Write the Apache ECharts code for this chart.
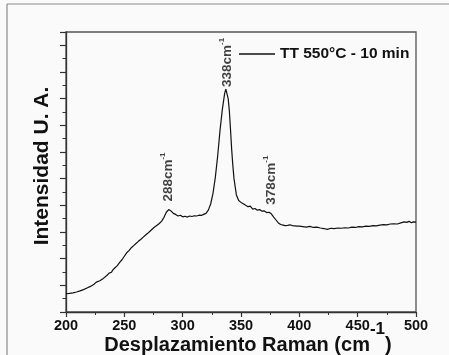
<!DOCTYPE html>
<html>
<head>
<meta charset="utf-8">
<script src="https://cdn.jsdelivr.net/npm/echarts@6/dist/echarts.min.js"></script>
<style>
html,body{margin:0;padding:0;background:#fafafa;}
#c{width:449px;height:355px;}
</style>
</head>
<body>
<div id="c"></div>
<script>
// Raman shift (cm-1)
var shiftX = [200,203,206,209,212,215,218,221,224,226,227,229,232,235,237,238,239,240,242,244,246,248,250,252,254,256,258,260,262,264,266,268,270,272,274,276,278,280,282,284,286,288,290,292,294,296,298,300,302,304,306,308,310,312,314,316,318,320,322,324,326,328,330,332,334,336,337,338,339,340,341,342,343,344,345,346,348,350,352,354,356,358,360,362,364,366,368,370,372,374,376,378,380,382,384,386,388,390,392,394,396,398,400,403,406,409,412,415,418,421,424,427,430,433,436,439,442,445,448,451,454,457,460,463,466,469,472,475,478,481,484,487,490,492,494,496,498,500];
// Intensity (arbitrary units)
var intensity = [0.69,0.70,0.72,0.75,0.79,0.84,0.90,0.96,1.04,1.12,1.08,1.17,1.26,1.37,1.46,1.52,1.49,1.57,1.66,1.74,1.86,1.96,2.09,2.22,2.30,2.41,2.49,2.57,2.65,2.72,2.80,2.88,2.95,3.03,3.11,3.19,3.25,3.32,3.41,3.55,3.74,3.84,3.79,3.70,3.66,3.60,3.63,3.57,3.59,3.56,3.60,3.58,3.61,3.60,3.63,3.62,3.66,3.70,3.82,4.05,4.45,5.05,5.85,6.80,7.60,8.20,8.36,8.30,8.00,7.55,6.85,6.10,5.50,5.00,4.70,4.40,4.18,4.11,4.06,4.00,3.95,3.97,3.86,3.88,3.82,3.84,3.78,3.79,3.73,3.74,3.68,3.56,3.45,3.34,3.28,3.26,3.24,3.25,3.27,3.24,3.23,3.22,3.22,3.20,3.18,3.21,3.17,3.18,3.15,3.13,3.10,3.14,3.13,3.15,3.14,3.16,3.15,3.18,3.17,3.20,3.19,3.22,3.21,3.24,3.23,3.26,3.28,3.27,3.30,3.31,3.30,3.34,3.38,3.36,3.40,3.35,3.38,3.37];
var xTicks = [200,250,300,350,400,450,500];
var seriesName = 'TT 550°C - 10 min';
// Peak annotations
var peakLabelX = [286.6, 337.3, 375.0];
var peakLabelY = [4.14, 8.44, 4.02];
var peakLabelText = ['288cm', '338cm', '378cm'];

var FONT = "'Liberation Sans', Arial, Helvetica, sans-serif";
var lineData = shiftX.map(function(x,i){return [x, intensity[i]];});
var annData = peakLabelX.map(function(x,i){return {value:[x, peakLabelY[i]], name: peakLabelText[i]};});

var chart = echarts.init(document.getElementById('c'), null, {renderer:'canvas'});
chart.setOption({
  backgroundColor: '#fafafa',
  animation: false,
  grid: {left:66, top:32, right:33, bottom:43, containLabel:false, outerBoundsMode:'none',
         show:true, borderColor:'#555', borderWidth:1.3, backgroundColor:'transparent'},
  graphic: [
    {type:'line', shape:{x1:7, y1:4, x2:449, y2:4}, style:{stroke:'#8a8a8a', lineWidth:1.2}},
    {type:'line', shape:{x1:7, y1:4, x2:7, y2:355}, style:{stroke:'#8a8a8a', lineWidth:1.2}}
  ],
  legend: {
    show: true, data:[seriesName], left:239, top:46, padding:0,
    itemWidth:36, itemHeight:14, itemGap:5,
    icon: 'path://M0,6 L36,6 L36,7.3 L0,7.3 Z',
    textStyle:{fontFamily:FONT, fontSize:15.5, fontWeight:'bold', color:'#111'}
  },
  xAxis: {
    type:'value', min:200, max:500, interval:50,
    axisLine:{show:true, lineStyle:{color:'#333', width:1.3}},
    axisTick:{show:true, length:5, lineStyle:{color:'#333', width:1.2}},
    minorTick:{show:true, splitNumber:2, length:3, lineStyle:{color:'#333', width:1}},
    splitLine:{show:false},
    axisLabel:{fontFamily:FONT, fontSize:14.5, fontWeight:'bold', color:'#111', margin:6,
      formatter:function(v){return xTicks.indexOf(v)>=0 ? String(v) : '';}},
    name: '{a|Desplazamiento Raman (cm}{s|-1}{a|)}',
    nameLocation:'middle', nameGap:9, nameMoveOverlap:false,
    nameTextStyle:{
      rich:{
        a:{fontFamily:FONT, fontSize:20, fontWeight:'bold', color:'#111', lineHeight:34, verticalAlign:'bottom'},
        s:{fontFamily:FONT, fontSize:17, fontWeight:'bold', color:'#111', lineHeight:12, verticalAlign:'top'}
      },
      padding:[0,0,0,14]
    }
  },
  yAxis: {
    type:'value', min:0, max:10.5, interval:1,
    axisLine:{show:true, lineStyle:{color:'#333', width:1.3}},
    axisTick:{show:true, length:6, lineStyle:{color:'#333', width:1.2}},
    minorTick:{show:true, splitNumber:2, length:3.5, lineStyle:{color:'#333', width:1}},
    splitLine:{show:false},
    axisLabel:{show:false},
    name:'Intensidad U. A.', nameLocation:'middle', nameGap:13, nameMoveOverlap:false,
    nameTextStyle:{fontFamily:FONT, fontSize:21, fontWeight:'bold', color:'#111', padding:[0,0,0,12]}
  },
  series: [
    {
      name: seriesName, type:'line', data: lineData,
      symbol:'none', showSymbol:false, smooth:false,
      lineStyle:{color:'#111', width:1.2},
      itemStyle:{color:'#111'}
    },
    {
      name:'peaks', type:'scatter', data: annData, symbolSize:0, silent:true,
      label:{
        show:true, position:[0,0], rotate:90, align:'left', verticalAlign:'middle',
        formatter:function(p){return '{m|'+p.name+'}{s|-1}';},
        rich:{
          m:{fontFamily:FONT, fontSize:13.5, fontWeight:'bold', color:'#111', lineHeight:16, verticalAlign:'bottom'},
          s:{fontFamily:FONT, fontSize:8, fontWeight:'bold', color:'#111', lineHeight:8, verticalAlign:'top'}
        }
      }
    }
  ]
});
</script>
</body>
</html>
